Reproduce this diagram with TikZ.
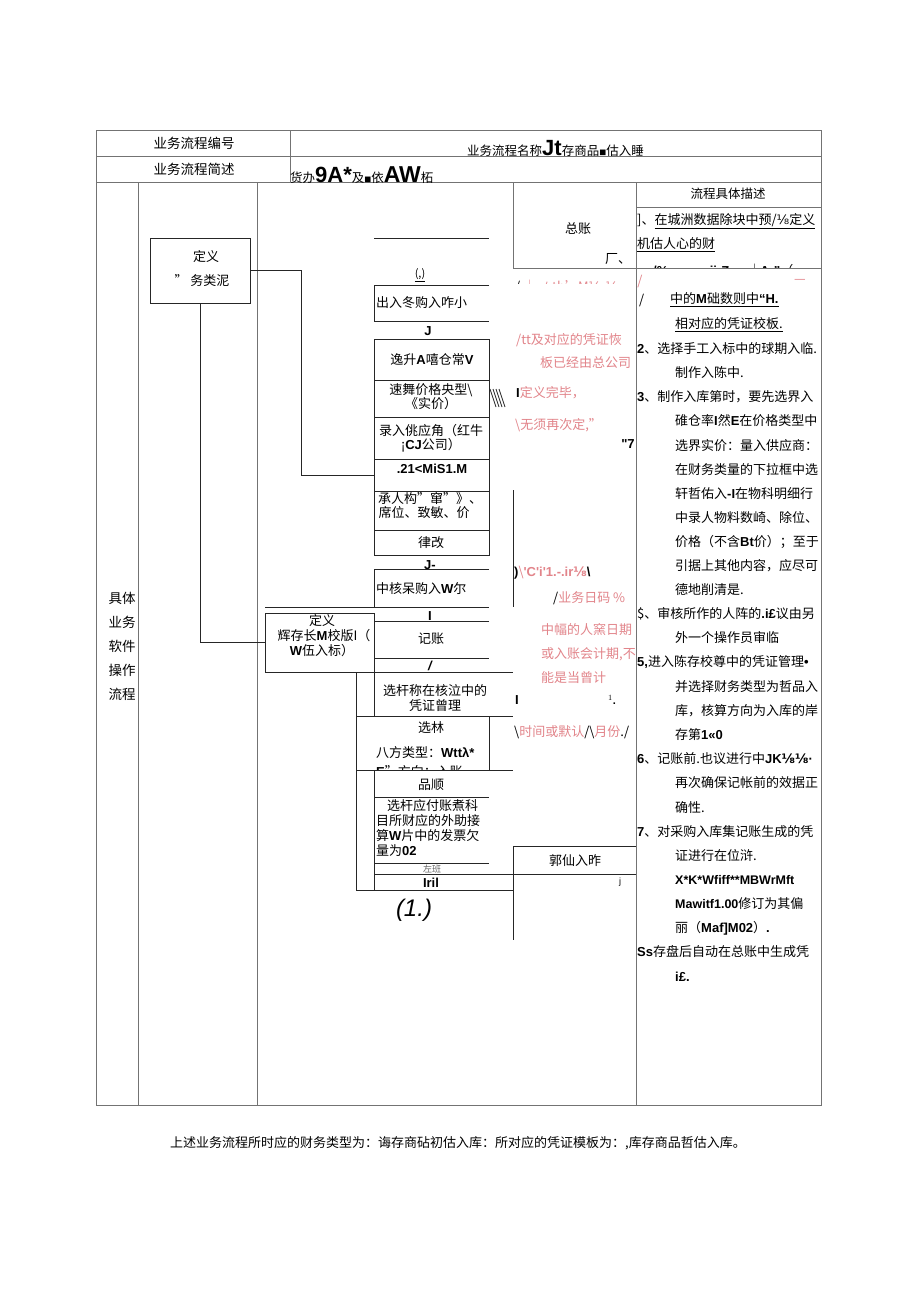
\documentclass[tikz,border=0pt]{standalone}
\usepackage{fontspec}
\setmainfont{Noto Sans CJK SC}
\newfontfamily\lb{Liberation Sans}
\newfontfamily\dv{DejaVu Sans}
\newcommand{\B}[1]{{\lb\bfseries #1}}
\newcommand{\ei}{{\dv ⅛}}
\newcommand{\eib}{{\dv\bfseries ⅛}}
\newcommand{\fs}[1]{\fontsize{#1}{#1}\selectfont}
\definecolor{pk}{RGB}{226,132,138}
\begin{document}
\begin{tikzpicture}[x=1pt,y=-1pt,
  tl/.style={draw=black!55,line width=0.7pt},
  fl/.style={draw=black!85,line width=0.8pt},
  t/.style={inner sep=0pt,font=\fontsize{13}{14}\selectfont,align=center},
  tw/.style={t,anchor=west},
  desc/.style={inner sep=0pt,anchor=west,font=\fontsize{13}{14}\selectfont},
  pt/.style={t,anchor=west,text=pk},
  rowbox/.style={fl,draw,minimum width=115pt,inner sep=0pt}]
\useasboundingbox (0,0) rectangle (920,1301);
\fill[white] (0,0) rectangle (920,1301);

% ---------------- table grid
\draw[tl] (96,130) rectangle (821,1105);
\draw[tl] (96,156) -- (821,156);
\draw[tl] (96,182) -- (821,182);
\draw[tl] (290,130) -- (290,182);
\draw[tl] (138,182) -- (138,1105);
\draw[tl] (257,182) -- (257,1105);
\draw[tl] (636,182) -- (636,1105);
\draw[tl] (513,182) -- (513,268);
\draw[tl] (513,268) -- (821,268);
\draw[tl] (636,207) -- (821,207);

% ---------------- header texts
\node[t,font=\fs{13.5}] (h1) at (194,143) {业务流程编号};
\node[t,font=\fs{13.5}] (h3) at (194,169) {业务流程简述};
\node[inner sep=0pt,anchor=base west] (h2) at (467,155)
  {\fs{12.5}业务流程名称{\lb\bfseries\fs{22}Jt}存商品{\fs{7}■}估入睡};
\node[inner sep=0pt,anchor=base west] (h4) at (290,182)
  {\fs{12.5}货办{\lb\bfseries\fs{22}9A*}及{\fs{7}■}依{\lb\bfseries\fs{23}AW}柘};
\node[t,font=\fs{12.5}] (h5) at (728,194) {流程具体描述};
\node[t] (h6) at (578,229) {总账};
\node[t] (h7) at (618,259) {厂、};

% left label
\node[t,font=\fontsize{13.5}{24}\selectfont] (lab) at (122,646) {具体\\业务\\软件\\操作\\流程};

% ---------------- flowchart
\node[fl,draw,minimum width=100pt,minimum height=65pt,inner sep=0pt] (bt) at (200,270.5) {};
\node[t,font=\fontsize{13}{24}\selectfont] (btt) at (202,269) {\hspace*{8pt}定义\\”\ 务类泥};

\draw[fl] (374,238) -- (489,238);
\node[t,font=\fs{11}] (pp) at (420,275) {\underline{(,)}};
\draw[fl] (489,285) -- (374,285) -- (374,321) -- (489,321);
\node[tw] (a1) at (376,303) {出入冬购入咋小};
\node[t] (j1) at (428,331) {\B{J}};

\node[rowbox,minimum height=41pt] (r1) at (431.5,359.5) {};
\node[rowbox,minimum height=37pt] (r2) at (431.5,398.5) {};
\node[rowbox,minimum height=42pt] (r3) at (431.5,438) {};
\node[rowbox,minimum height=32pt] (r4) at (431.5,475) {};
\node[rowbox,minimum height=39pt] (r5) at (431.5,510.5) {};
\node[rowbox,minimum height=25pt] (r6) at (431.5,542.5) {};
\node[t] (t1) at (432,360) {逸升\B{A}嘻仓常\B{V}};
\node[t] (t2) at (431,397) {速舞价格央型\textbackslash\\《实价）};
\node[t] (t3) at (431,438) {录入佻应角（红牛\\¡\B{CJ}公司）};
\node[t] (t4) at (432,469) {\B{.21<MiS1.M}};
\node[t] (t5) at (424,506) {\hspace*{12pt}承人构"窜"》、\\席位、致敏、价};
\node[t] (t6) at (431,543) {律改};
\node[t] (j2) at (430,565) {\B{J-}};

\draw[fl] (489,569) -- (374,569) -- (374,607);
\draw[fl] (265,607) -- (489,607);
\node[tw] (c1) at (376,589) {中核呆购入\B{W}尔};
\node[t] (j3) at (430,616) {\B{I}};

\node[fl,draw,minimum width=109pt,minimum height=59pt,inner sep=0pt] (dd) at (319.5,642.5) {};
\node[t,font=\fontsize{13}{15}\selectfont] (ddt) at (322,636) {定义\\\hspace*{4pt}辉存长\B{M}校版I（\\\B{W}伍入标）};
\draw[fl] (489,621) -- (374,621) -- (374,658) -- (489,658);
\node[t] (e1) at (431,639) {记账};
\node[t] (j4) at (430,666) {\B{\itshape /}};
\draw[fl] (374,672) -- (513,672);

\draw[fl] (374,672) -- (374,716);
\draw[fl] (356,672) -- (356,890);
\draw[fl] (356,716) -- (513,716);
\node[t,font=\fontsize{13}{15}\selectfont] (f1) at (435,698) {选杆称在核泣中的\\凭证曾理};
\draw[fl] (489,716) -- (489,770);
\node[t] (g1) at (431,728) {选林};
\node[tw] (g2) at (376,753) {八方类型：\B{Wttλ*}};
\begin{scope}
\clip (357,760) rectangle (488,769.5);
\node[tw] (g3) at (376,771.5) {\B{E}”方向：入账};
\end{scope}
\draw[fl] (356,770) -- (513,770);
\draw[fl] (374,770) -- (374,890);
\node[t] (k1) at (431,785) {品顺};
\draw[fl] (374,797) -- (489,797);
\node[tw,align=left,font=\fontsize{13}{15}\selectfont,anchor=north west] (k2) at (376,799)
  {\hspace*{11pt}选杆应付账煮科\\目所财应的外助接\\算\B{W}片中的发票欠\\量为\B{02}};
\draw[fl] (374,863) -- (489,863);
\node[t,font=\fs{9},text=black!60] (k3) at (432,869) {左班};
\draw[fl] (374,874) -- (636,874);
\node[t] (k4) at (431,883) {\B{Iril}};
\draw[fl] (356,890) -- (513,890);
\node[t,font=\lb\itshape\fs{24}] (k5) at (414,910) {(1.)};

\draw[fl] (513,846) -- (636,846);
\draw[fl] (513,846) -- (513,940);
\node[t] (m1) at (575,861) {郭仙入昨};
\node[t,font=\lb\fs{9}] (m2) at (620,882) {j};

\draw[fl] (513,490) -- (513,607);

% connectors
\draw[fl] (bt.east) -- ++(51,0) |- (r4.west);
\draw[fl] (bt.south) |- (dd.west);

% ---------------- pink annotations
\begin{scope}
\clip (505,269) rectangle (636,283.5);
\node[tw] (p0) at (515,287) {/\ \textcolor{pk}{｜\ ≠tb'M\ei-\ei}};
\end{scope}
\node[t,text=pk] (p0b) at (640,281) {/};
\node[t,text=pk] (p0c) at (800,281) {—};
\node[pt] (p1) at (516,340) {/tt及对应的凭证恢};
\node[pt] (p2) at (540,363) {板已经由总公司};
\foreach \i in {0,1,2,3}
  \draw[black!80,line width=0.8pt] (490+3*\i,389) -- (496+3*\i,407);
\node[tw] (p3) at (516,393) {\B{I}\textcolor{pk}{定义完毕，}};
\node[pt] (p4) at (515,425) {\textbackslash 无须再次定,”};
\node[t] (p5) at (628,444) {\B{"7}};
\node[tw] (p6) at (514,573) {\B{)}\textcolor{pk}{\textbackslash\B{'C'i'1.-.ir}\eib}\B{\textbackslash}};
\node[tw] (p7) at (553,598) {/\textcolor{pk}{业务日码 \%}};
\node[pt] (p8) at (541,630) {中幅的人窯日期};
\node[pt] (p9) at (541,654) {或入账会计期,不};
\node[pt] (p10) at (541,678) {能是当曾计};
\node[t] (p11) at (517,700) {\B{I}};
\node[t,font=\lb\bfseries\fs{11}] (p12) at (612,700) {$^{1}$.};
\node[tw] (p13) at (514,732) {\textbackslash\textcolor{pk}{时间或默认}/\textbackslash\textcolor{pk}{月份}./};

% ---------------- description column
\node[desc] (d1) at (637,221) {]、\underline{在城洲数据除块中预/\ei 定义}};
\node[desc] (d2) at (637,245) {\underline{机估人心的财}};
\begin{scope}
\clip (637,255) rectangle (820,267.5);
\node[desc] (d3a) at (653,271) {\B{/\%}};
\node[desc] (d3b) at (705,271) {\B{•ii·Z}};
\node[desc] (d3c) at (748,271) {｜};
\node[desc] (d3d) at (760,271) {\B{A·”}（};
\end{scope}
\node[desc] (d4a) at (639,300) {/};
\node[desc] (d4) at (670,300) {\underline{中的\B{M}础数则中\B{“H.}}};
\node[desc] (d5) at (675,325) {\underline{相对应的凭证校板.}};
\node[desc] (d6) at (637,349) {\B{2}、选择手工入标中的球期入临.};
\node[desc] (d7) at (675,373) {制作入陈中.};
\node[desc] (d8) at (637,397) {\B{3}、制作入库第时，要先选界入};
\node[desc] (d9) at (675,421) {碓仓率\B{I}然\B{E}在价格类型中};
\node[desc] (d10) at (675,446) {选界实价：量入供应商：};
\node[desc] (d11) at (675,470) {在财务类量的下拉框中选};
\node[desc] (d12) at (675,494) {轩哲佑入\B{-I}在物科明细行};
\node[desc] (d13) at (675,518) {中录人物料数崎、除位、};
\node[desc] (d14) at (675,542) {价格（不含\B{Bt}价）；至于};
\node[desc] (d15) at (675,566) {引据上其他内容，应尽可};
\node[desc] (d16) at (675,590) {德地削清是.};
\node[desc] (d17) at (637,614) {\$、审核所作的人阵的\B{.i£}议由另};
\node[desc] (d18) at (675,638) {外一个操作员审临};
\node[desc] (d19) at (637,662) {\B{5,}进入陈存校尊中的凭证管理\B{•}};
\node[desc] (d20) at (675,687) {并选择财务类型为哲品入};
\node[desc] (d21) at (675,711) {库，核算方向为入库的岸};
\node[desc] (d22) at (675,735) {存第\B{1«0}};
\node[desc] (d23) at (637,759) {\B{6}、记账前.也议进行中\B{JK}\eib\eib\B{·}};
\node[desc] (d24) at (675,783) {再次确保记帐前的效据正};
\node[desc] (d25) at (675,808) {确性.};
\node[desc] (d26) at (637,832) {\B{7}、对采购入库集记账生成的凭};
\node[desc] (d27) at (675,856) {证进行在位浒.};
\node[desc,font=\lb\bfseries\fs{12.5}] (d28) at (675,880) {X*K*Wfiff**MBWrMft};
\node[desc] (d29) at (675,904) {{\lb\bfseries\fs{12.5}Mawitf1.00}修订为其偏};
\node[desc] (d30) at (675,928) {丽（\B{Maf]M02}）\B{.}};
\node[desc] (d31) at (637,952) {\B{Ss}存盘后自动在总账中生成凭};
\node[desc] (d32) at (675,977) {\B{i£.}};

% ---------------- footer
\node[desc] (foot) at (170,1143) {上述业务流程所时应的财务类型为：诲存商砧初估入库：所对应的凭证模板为：,库存商品哲估入库。};
\end{tikzpicture}
\end{document}
